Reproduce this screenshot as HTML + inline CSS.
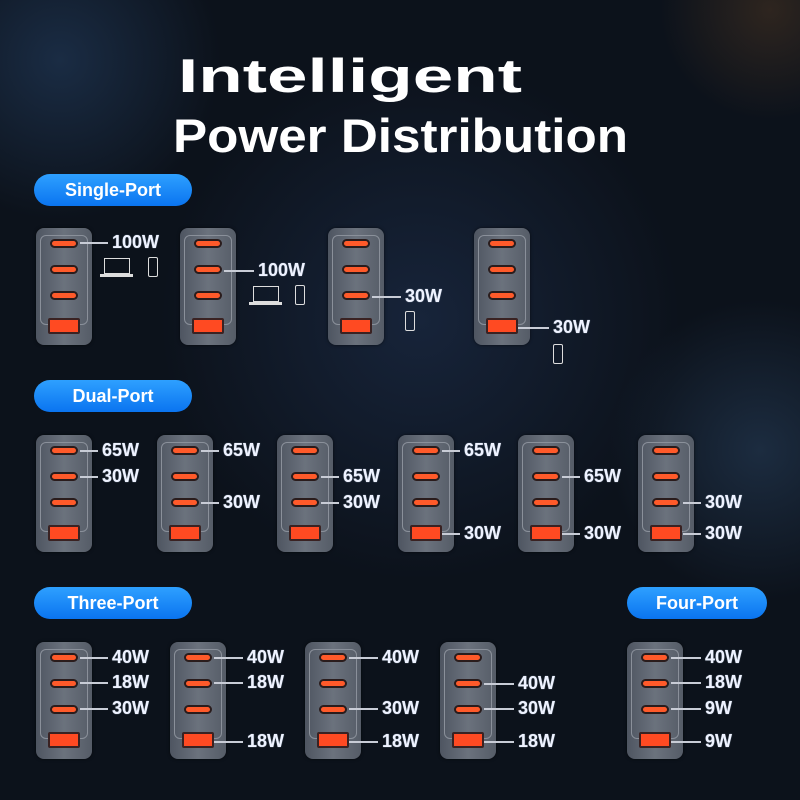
<!DOCTYPE html>
<html><head><meta charset="utf-8"><style>
*{margin:0;padding:0;box-sizing:border-box}
body{width:800px;height:800px;overflow:hidden;position:relative;font-family:"Liberation Sans",sans-serif;
background:radial-gradient(circle at 60px 60px,#1a2c44 0,rgba(0,0,0,0) 160px),radial-gradient(circle at 770px 10px,#2e251f 0,rgba(0,0,0,0) 110px),radial-gradient(circle at 760px 450px,#1c2c40 0,rgba(0,0,0,0) 150px),radial-gradient(circle at 420px 320px,#17243a 0,rgba(0,0,0,0) 260px),#0c121b}
.ch{position:absolute;width:56px;height:117px;border-radius:8px;background:linear-gradient(90deg,#4e5561,#6b727d 50%,#555c67);box-shadow:0 0 3px rgba(0,0,0,.6)}
.ch::before{content:'';position:absolute;left:4px;right:4px;top:7px;bottom:20px;border:1px solid #8a909a;border-radius:6px}
.p{position:absolute;left:14px;width:28px;height:9px;border-radius:5px;background:#ff5a2a;border:2px solid #2a1c1c}
.a{position:absolute;left:12px;top:90px;width:32px;height:16px;background:#ff4a22;border:2px solid #3a2222;border-radius:2px}
.w{position:absolute;font-size:18px;font-weight:bold;line-height:20px;color:#eef2ff;text-shadow:0 0 1px #9ab}
.w::before{content:'';position:absolute;right:100%;margin-right:4px;top:10px;width:var(--w);height:1.5px;background:#c8ccd6}
.pill{position:absolute;height:32px;border-radius:16px;background:linear-gradient(180deg,#2ea0ff,#0a74f0);color:#fff;font-weight:bold;font-size:18px;line-height:32px;text-align:center}
.lap{position:absolute;width:26px;height:16px;border:1.5px solid #ddd}
.lap::after{content:'';position:absolute;left:-5px;top:15px;width:33px;height:3px;background:#ddd}
.ph{position:absolute;width:10px;height:20px;border:1.5px solid #ddd;border-radius:2px}
</style></head><body>
<svg style="position:absolute;left:0;top:0" width="800" height="200">
<text x="178" y="92" textLength="344" lengthAdjust="spacingAndGlyphs" font-family="Liberation Sans" font-weight="bold" font-size="47" fill="#fff">Intelligent</text>
<text x="173" y="152" textLength="455" lengthAdjust="spacingAndGlyphs" font-family="Liberation Sans" font-weight="bold" font-size="47" fill="#fff">Power Distribution</text>
</svg>
<div class="pill" style="left:34px;top:174px;width:158px">Single-Port</div>
<div class="pill" style="left:34px;top:380px;width:158px">Dual-Port</div>
<div class="pill" style="left:34px;top:587px;width:158px">Three-Port</div>
<div class="pill" style="left:627px;top:587px;width:140px">Four-Port</div>

<div class="ch" style="left:36px;top:228px"><div class="p" style="top:11px"></div><div class="p" style="top:37px"></div><div class="p" style="top:63px"></div><div class="a"></div></div>
<div class="ch" style="left:180px;top:228px"><div class="p" style="top:11px"></div><div class="p" style="top:37px"></div><div class="p" style="top:63px"></div><div class="a"></div></div>
<div class="ch" style="left:328px;top:228px"><div class="p" style="top:11px"></div><div class="p" style="top:37px"></div><div class="p" style="top:63px"></div><div class="a"></div></div>
<div class="ch" style="left:474px;top:228px"><div class="p" style="top:11px"></div><div class="p" style="top:37px"></div><div class="p" style="top:63px"></div><div class="a"></div></div>
<div class="w" style="left:112px;top:232px;--w:28px">100W</div>
<div class="w" style="left:258px;top:260px;--w:30px">100W</div>
<div class="w" style="left:405px;top:286px;--w:29px">30W</div>
<div class="w" style="left:553px;top:317px;--w:31px">30W</div>
<div class="lap" style="left:104px;top:258px"></div><div class="ph" style="left:148px;top:257px"></div>
<div class="lap" style="left:253px;top:286px"></div><div class="ph" style="left:295px;top:285px"></div>
<div class="ph" style="left:405px;top:311px"></div>
<div class="ph" style="left:553px;top:344px"></div>

<div class="ch" style="left:36px;top:435px"><div class="p" style="top:11px"></div><div class="p" style="top:37px"></div><div class="p" style="top:63px"></div><div class="a"></div></div>
<div class="ch" style="left:157px;top:435px"><div class="p" style="top:11px"></div><div class="p" style="top:37px"></div><div class="p" style="top:63px"></div><div class="a"></div></div>
<div class="ch" style="left:277px;top:435px"><div class="p" style="top:11px"></div><div class="p" style="top:37px"></div><div class="p" style="top:63px"></div><div class="a"></div></div>
<div class="ch" style="left:398px;top:435px"><div class="p" style="top:11px"></div><div class="p" style="top:37px"></div><div class="p" style="top:63px"></div><div class="a"></div></div>
<div class="ch" style="left:518px;top:435px"><div class="p" style="top:11px"></div><div class="p" style="top:37px"></div><div class="p" style="top:63px"></div><div class="a"></div></div>
<div class="ch" style="left:638px;top:435px"><div class="p" style="top:11px"></div><div class="p" style="top:37px"></div><div class="p" style="top:63px"></div><div class="a"></div></div>
<div class="w" style="left:102px;top:440px;--w:18px">65W</div>
<div class="w" style="left:102px;top:466px;--w:18px">30W</div>
<div class="w" style="left:223px;top:440px;--w:18px">65W</div>
<div class="w" style="left:223px;top:492px;--w:18px">30W</div>
<div class="w" style="left:343px;top:466px;--w:18px">65W</div>
<div class="w" style="left:343px;top:492px;--w:18px">30W</div>
<div class="w" style="left:464px;top:440px;--w:18px">65W</div>
<div class="w" style="left:464px;top:523px;--w:18px">30W</div>
<div class="w" style="left:584px;top:466px;--w:18px">65W</div>
<div class="w" style="left:584px;top:523px;--w:18px">30W</div>
<div class="w" style="left:705px;top:492px;--w:18px">30W</div>
<div class="w" style="left:705px;top:523px;--w:18px">30W</div>

<div class="ch" style="left:36px;top:642px"><div class="p" style="top:11px"></div><div class="p" style="top:37px"></div><div class="p" style="top:63px"></div><div class="a"></div></div>
<div class="ch" style="left:170px;top:642px"><div class="p" style="top:11px"></div><div class="p" style="top:37px"></div><div class="p" style="top:63px"></div><div class="a"></div></div>
<div class="ch" style="left:305px;top:642px"><div class="p" style="top:11px"></div><div class="p" style="top:37px"></div><div class="p" style="top:63px"></div><div class="a"></div></div>
<div class="ch" style="left:440px;top:642px"><div class="p" style="top:11px"></div><div class="p" style="top:37px"></div><div class="p" style="top:63px"></div><div class="a"></div></div>
<div class="ch" style="left:627px;top:642px"><div class="p" style="top:11px"></div><div class="p" style="top:37px"></div><div class="p" style="top:63px"></div><div class="a"></div></div>
<div class="w" style="left:112px;top:647px;--w:28px">40W</div>
<div class="w" style="left:112px;top:672px;--w:28px">18W</div>
<div class="w" style="left:112px;top:698px;--w:28px">30W</div>
<div class="w" style="left:247px;top:647px;--w:29px">40W</div>
<div class="w" style="left:247px;top:672px;--w:29px">18W</div>
<div class="w" style="left:247px;top:731px;--w:29px">18W</div>
<div class="w" style="left:382px;top:647px;--w:29px">40W</div>
<div class="w" style="left:382px;top:698px;--w:29px">30W</div>
<div class="w" style="left:382px;top:731px;--w:29px">18W</div>
<div class="w" style="left:518px;top:673px;--w:30px">40W</div>
<div class="w" style="left:518px;top:698px;--w:30px">30W</div>
<div class="w" style="left:518px;top:731px;--w:30px">18W</div>
<div class="w" style="left:705px;top:647px;--w:30px">40W</div>
<div class="w" style="left:705px;top:672px;--w:30px">18W</div>
<div class="w" style="left:705px;top:698px;--w:30px">9W</div>
<div class="w" style="left:705px;top:731px;--w:30px">9W</div>
</body></html>
